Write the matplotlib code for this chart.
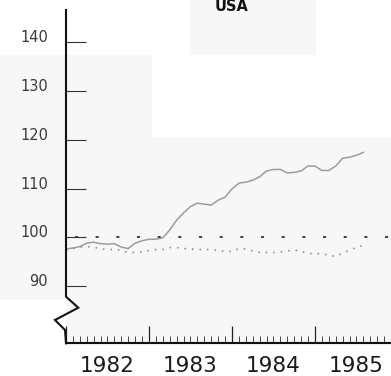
"""USA index chart, 1982-1985, recreated with matplotlib."""

import numpy as np
import matplotlib

matplotlib.use("Agg")
import matplotlib.pyplot as plt
from matplotlib.patches import Rectangle
from matplotlib.transforms import blended_transform_factory

# monthly values, starting January 1982
solid_values = [
    97.6, 97.8, 98.1, 98.8, 99.0, 98.7, 98.6, 98.7, 98.0, 97.7, 98.8, 99.3,
    99.6, 99.6, 99.9, 101.5, 103.5, 105.0, 106.3, 107.0, 106.8, 106.6, 107.6, 108.2,
    109.9, 111.1, 111.3, 111.7, 112.4, 113.6, 113.9, 113.9, 113.2, 113.3, 113.6, 114.6,
    114.6, 113.7, 113.7, 114.6, 116.2, 116.4, 116.8, 117.4,
]
dotted_values = [
    97.4, 97.7, 98.0, 98.1, 98.0, 97.6, 97.5, 97.5, 97.3, 96.9, 96.9, 97.0,
    97.3, 97.5, 97.5, 97.9, 97.9, 97.7, 97.6, 97.5, 97.5, 97.5, 97.3, 97.1,
    97.1, 97.7, 97.6, 97.2, 96.9, 96.9, 96.9, 97.0, 97.2, 97.4, 97.1, 96.7,
    96.6, 96.7, 96.3, 96.1, 96.7, 97.4, 97.9, 98.4,
]
reference_level = 100
start_year = 1982
years = [1982, 1983, 1984, 1985]
y_ticks = [90, 100, 110, 120, 130, 140]
title = "USA"

W, H, DPI = 391, 376, 100
fig = plt.figure(figsize=(W / DPI, H / DPI), dpi=DPI, facecolor="#f7f7f7")

# faint scan patches in the background (kept behind everything)
for x0, y0, x1, y1 in [(0, 0, 190, 55), (316, 0, 391, 55), (152, 55, 391, 137),
                       (66, 346, 391, 376), (0, 300, 66, 376)]:
    fig.patches.append(Rectangle((x0 / W, 1 - y1 / H), (x1 - x0) / W, (y1 - y0) / H,
                                 transform=fig.transFigure, facecolor="white",
                                 edgecolor="none", zorder=-5))

ax = fig.add_axes([66 / W, 1 - 343.3 / H, 325 / W, 333.3 / H])
ax.set_facecolor("none")
ax.set_zorder(2)

months = start_year + np.arange(len(solid_values)) / 12
ax.plot(months, solid_values, color="#9c9c9c", linewidth=1.1, solid_joinstyle="round")
ax.plot(months, dotted_values, color="#8a8a8a", linewidth=1.2, linestyle=(0, (0.9, 3.6)))
ax.axhline(reference_level, color="#333333", linewidth=1.3, linestyle=(6.5, (1.7, 9.75)))

ax.set_xlim(start_year, start_year + 325 / 83.5)
ax.set_ylim(78.28, 146.58)

for side in ("left", "top", "right"):
    ax.spines[side].set_visible(False)
ax.spines["bottom"].set_linewidth(1.5)
ax.spines["bottom"].set_color("#111111")

# left axis with the zigzag break near the bottom
bx = np.array([66, 66, 78.3, 55, 65, 66])
by = np.array([10, 296.7, 307.7, 320, 330, 343.3])
ax.plot((bx - 66) / 325, (343.3 - by) / 333.3, color="#111111", linewidth=1.5,
        transform=ax.transAxes, clip_on=False, solid_joinstyle="miter")

ax.set_yticks(y_ticks)
ax.set_yticklabels([str(v) for v in y_ticks])
ax.tick_params(axis="y", direction="in", length=14.4, width=0.8, color="#333333",
               pad=13, labelsize=10.5, labelcolor="#3a3a3a")
for label in ax.get_yticklabels():
    label.set_verticalalignment("baseline")

ax.set_xticks(years)
ax.set_xticks(start_year + np.arange(1, 12 * len(years)) / 12, minor=True)
ax.set_xticklabels([])
ax.tick_params(axis="x", which="major", direction="in", length=12, width=0.9, color="#222222")
ax.tick_params(axis="x", which="minor", direction="in", length=5, width=0.7, color="#444444")

label_tr = blended_transform_factory(ax.transData, fig.transFigure)
for yr in years:
    ax.text(yr + 0.5, 1 - 372 / H, str(yr), transform=label_tr, ha="center",
            va="baseline", fontsize=15.5, color="#1a1a1a", clip_on=False)

fig.text(232 / W, 1 - 11 / H, title, ha="center", va="baseline",
         fontsize=10.5, fontweight="bold", color="#111111")

fig.savefig("out.png", dpi=DPI, facecolor=fig.get_facecolor())
plt.close(fig)
